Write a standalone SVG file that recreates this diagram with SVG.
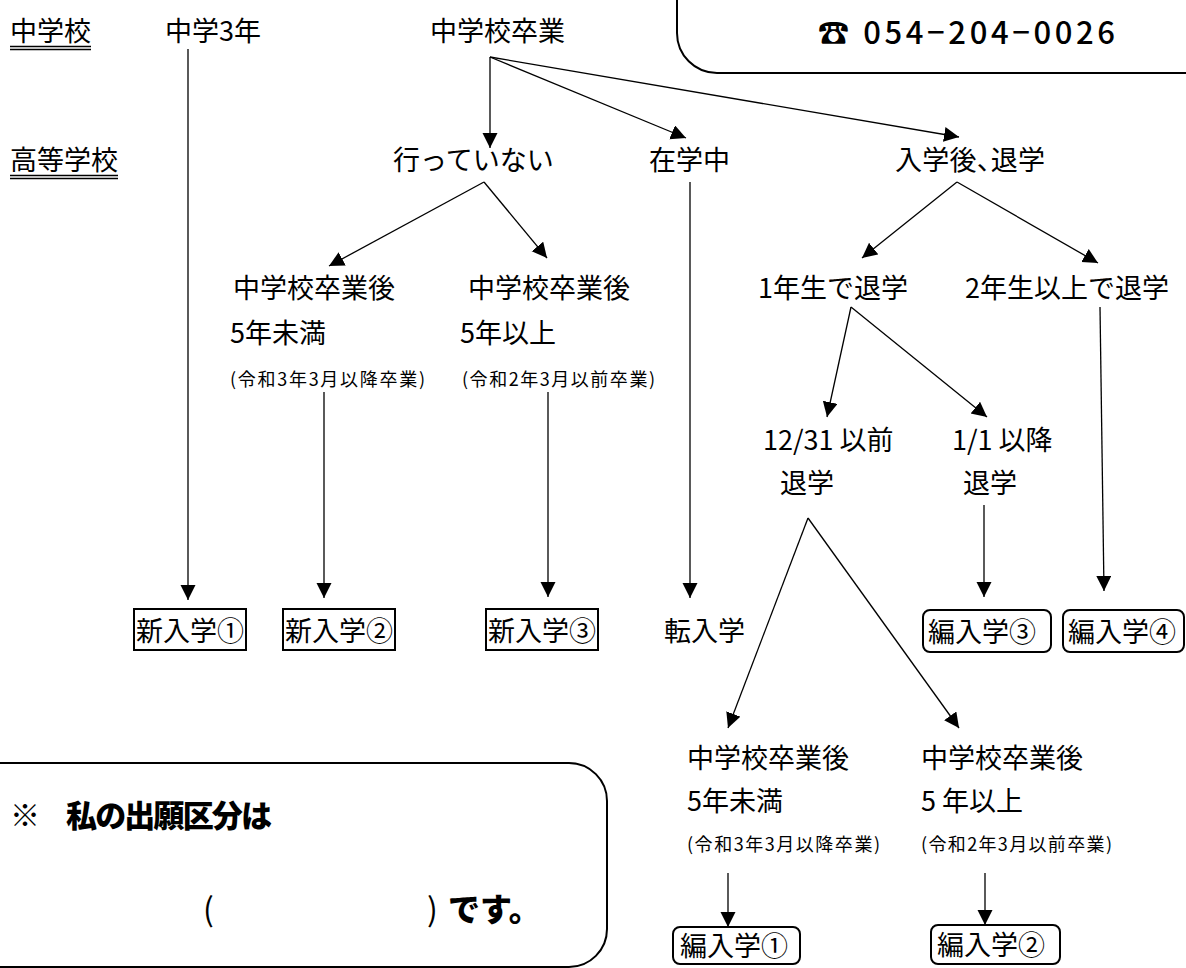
<svg xmlns="http://www.w3.org/2000/svg" width="1186" height="968" viewBox="0 0 1186 968">
<defs>
<marker id="ah" markerUnits="userSpaceOnUse" markerWidth="16" markerHeight="16" refX="15" refY="7.5" orient="auto"><path d="M0,0 L15,7.5 L0,15 z" fill="#000"/></marker>
<style>
text{font-family:'Noto Sans CJK JP','Noto Sans CJK SC',sans-serif;fill:#000;font-size:27px}
.sm{font-size:18px}
.bd{font-weight:900;font-size:30px}
.pr{font-weight:400;font-size:32px}
.ph{font-weight:500;font-size:31px}
.pa{font-feature-settings:"palt"}
.c{fill:none;stroke:#000;stroke-width:1.3;marker-end:url(#ah)}
.bx{fill:#fff;stroke:#000;stroke-width:2}
.ul{stroke:#000;fill:none}
</style>
</defs>
<rect width="1186" height="968" fill="#fff"/>
<g id="phone-box">
<rect class="bx" x="677" y="-60" width="600" height="133" rx="40"/>
<text class="ph" x="818" y="44" textLength="297" lengthAdjust="spacing">☎ 054−204−0026</text>
</g>
<g id="answer-box">
<rect class="bx" x="-60" y="763" width="667" height="204" rx="38"/>
<text class="bd" x="10" y="826">※</text>
<text class="bd" x="66" y="827" textLength="206" lengthAdjust="spacing" style="font-size:31px">私の出願区分は</text>
<text class="pr" x="203" y="921">(</text>
<text class="pr" x="427" y="921">)</text>
<text class="bd" x="448" y="921" style="font-size:32px">です。</text>
</g>
<g id="labels">
<text x="10" y="41">中学校</text>
<path class="ul" d="M10,46.5 H91 M10,49.5 H91" stroke-width="1.3"/>
<text x="10" y="170">高等学校</text>
<path class="ul" d="M10,175.5 H118 M10,178.5 H118" stroke-width="1.3"/>
</g>
<g id="n-chu3"><text x="165" y="41">中学3年</text></g>
<g id="n-sotsugyo"><text x="430" y="41">中学校卒業</text></g>
<g id="n-itteinai"><text x="393" y="170">行っていない</text></g>
<g id="n-zaigaku"><text x="649" y="170">在学中</text></g>
<g id="n-nyugakugo"><text class="pa" x="895" y="170" textLength="150" lengthAdjust="spacing">入学後、退学</text></g>
<g id="n-u5"><text x="233" y="298">中学校卒業後</text><text x="230" y="343">5年未満</text><text class="sm" x="230" y="386" textLength="195" lengthAdjust="spacing">(令和3年3月以降卒業)</text></g>
<g id="n-o5"><text x="468" y="298">中学校卒業後</text><text x="460" y="343">5年以上</text><text class="sm" x="462" y="386" textLength="193" lengthAdjust="spacing">(令和2年3月以前卒業)</text></g>
<g id="n-1nen"><text x="758" y="298">1年生で退学</text></g>
<g id="n-2nen"><text x="965" y="298">2年生以上で退学</text></g>
<g id="n-1231"><text x="763" y="450">12/31 以前</text><text x="780" y="493">退学</text></g>
<g id="n-11"><text x="952" y="450">1/1 以降</text><text x="963" y="493">退学</text></g>
<g id="n-shin1"><rect class="bx" x="134" y="609" width="112" height="41"/><text x="136" y="641">新入学①</text></g>
<g id="n-shin2"><rect class="bx" x="283" y="609" width="112" height="41"/><text x="285" y="641">新入学②</text></g>
<g id="n-shin3"><rect class="bx" x="486" y="609" width="112" height="41"/><text x="488" y="641">新入学③</text></g>
<g id="n-tennyu"><text x="664" y="641">転入学</text></g>
<g id="n-hen3"><rect class="bx" x="923" y="610" width="128" height="42" rx="7"/><text x="928" y="642">編入学③</text></g>
<g id="n-hen4"><rect class="bx" x="1063" y="610" width="121" height="42" rx="7"/><text x="1068" y="642">編入学④</text></g>
<g id="n-bu5"><text x="687" y="768">中学校卒業後</text><text x="687" y="811">5年未満</text><text class="sm" x="687" y="851" textLength="193" lengthAdjust="spacing">(令和3年3月以降卒業)</text></g>
<g id="n-bo5"><text x="921" y="768">中学校卒業後</text><text x="921" y="811">5 年以上</text><text class="sm" x="921" y="851" textLength="191" lengthAdjust="spacing">(令和2年3月以前卒業)</text></g>
<g id="n-hen1"><rect class="bx" x="673" y="927" width="127" height="37" rx="7"/><text x="680" y="956">編入学①</text></g>
<g id="n-hen2"><rect class="bx" x="931" y="925" width="129" height="39" rx="7"/><text x="937" y="955">編入学②</text></g>
<g id="connectors">
<path class="c" d="M188,49 V600"/>
<path class="c" d="M490,57 V148"/>
<path class="c" d="M490,57 L686,138"/>
<path class="c" d="M490,57 L959,137"/>
<path class="c" d="M484,182 L329,266"/>
<path class="c" d="M484,182 L547,258"/>
<path class="c" d="M324,392 V598"/>
<path class="c" d="M548,392 V597"/>
<path class="c" d="M690,182 V598"/>
<path class="c" d="M957,182 L862,258"/>
<path class="c" d="M957,182 L1098,263"/>
<path class="c" d="M851,307 L827,417"/>
<path class="c" d="M851,307 L987,417"/>
<path class="c" d="M1100,307 L1104,591"/>
<path class="c" d="M984,505 V597"/>
<path class="c" d="M808,518 L728,728"/>
<path class="c" d="M808,518 L959,728"/>
<path class="c" d="M728,873 V927"/>
<path class="c" d="M985,873 V925"/>
</g>
</svg>
